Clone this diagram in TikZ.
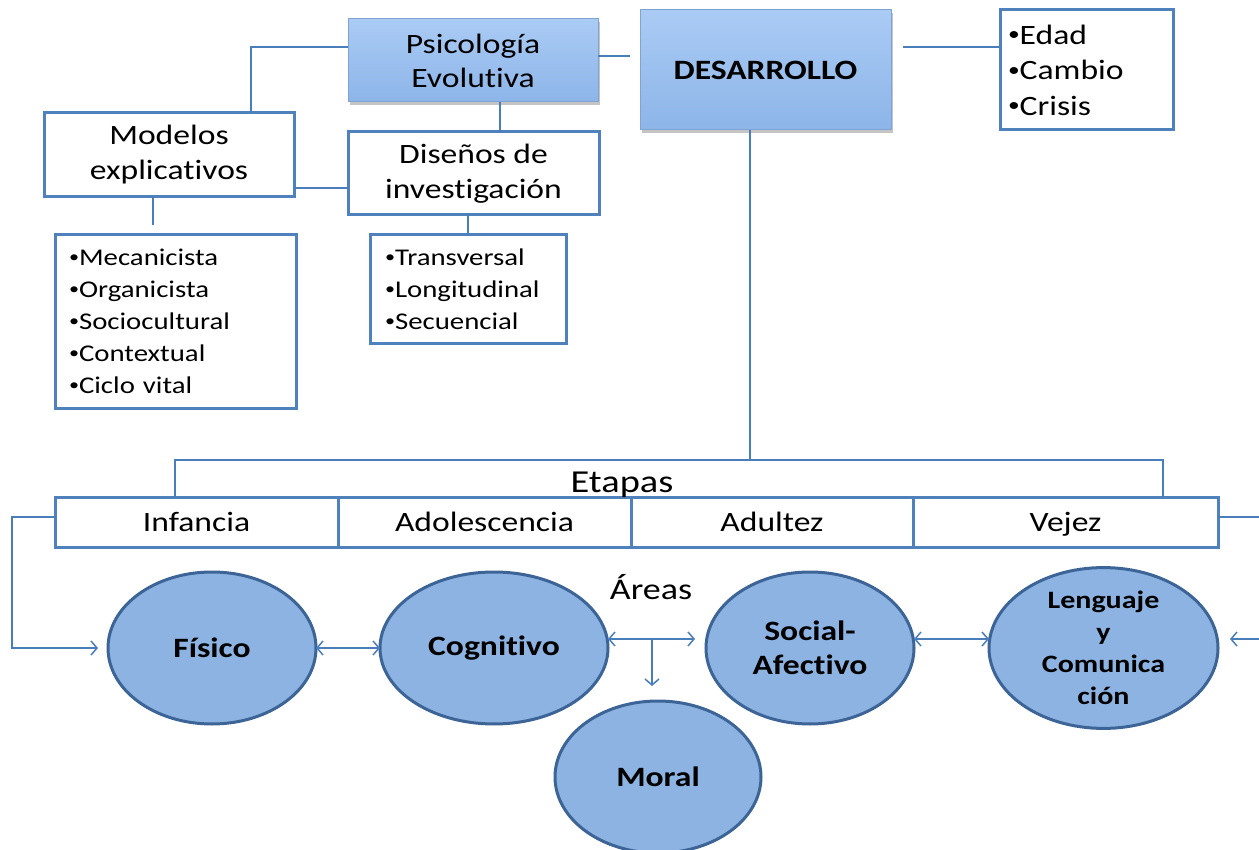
\documentclass[tikz,border=0pt]{standalone}
\usepackage{fontspec}
\setmainfont{Carlito}[FakeStretch=1.2, Ligatures=NoCommon]
\usetikzlibrary{shapes.geometric,arrows.meta,shadows}
\definecolor{conn}{HTML}{4A7EBB}
\definecolor{boxline}{HTML}{4F81BD}
\definecolor{ellfill}{HTML}{8DB3E2}
\definecolor{ellline}{HTML}{3C6496}
\definecolor{headtop}{HTML}{AACBF4}
\definecolor{headbot}{HTML}{8DB5E9}
\definecolor{headline}{HTML}{7FA3D2}
\newcommand{\bul}{\raisebox{0.12em}{\scalebox{0.7}{•}}}
\tikzset{
  conn/.style={draw=conn, line width=1.5pt},
  arr/.style={conn, -{Straight Barb[length=6pt,width=14pt,line width=1.5pt]}},
  arrtwo/.style={conn, {Straight Barb[length=6pt,width=14pt,line width=1.5pt]}-{Straight Barb[length=6pt,width=14pt,line width=1.5pt]}},
  wbox/.style={draw=boxline, line width=3pt, fill=white, inner sep=0pt, outer sep=0pt, align=center},
  listbox/.style={draw=boxline, line width=3pt, fill=white, inner ysep=0pt, outer sep=0pt, align=left},
  headbox/.style={draw=headline, line width=1pt, top color=headtop, bottom color=headbot,
    inner sep=0pt, outer sep=0pt, align=center,
    drop shadow={opacity=0.45, shadow xshift=2pt, shadow yshift=-3pt}},
  area/.style={ellipse, draw=ellline, line width=3pt, fill=ellfill, inner sep=0pt, outer sep=0pt,
    align=center, font=\bfseries\fontsize{28}{34}\selectfont},
  stage/.style={draw=boxline, line width=3pt, fill=white, inner sep=0pt, outer sep=0pt,
    minimum height=50pt, text height=22pt, text depth=3pt, font=\fontsize{28}{34}\selectfont},
  big/.style={font=\fontsize{28}{34}\selectfont},
}
\begin{document}
\begin{tikzpicture}[x=1pt,y=-1pt]
\clip (0,0) rectangle (1259,850);
\fill[white] (0,0) rectangle (1259,850);

% top boxes
\node[headbox, minimum width=250pt, minimum height=83pt, big] (psi) at (473,60.5) {Psicología\\[0pt]Evolutiva};
\node[headbox, minimum width=251pt, minimum height=120pt, font=\bfseries\fontsize{28}{34}\selectfont] (desa) at (765.5,70) {DESARROLLO};
\node[listbox, text width=157pt, inner xsep=8pt, minimum height=120pt, font=\fontsize{28}{35.5}\selectfont] (eca) at (1086.5,70) {\bul Edad\\\bul Cambio\\\bul Crisis};

\node[wbox, minimum width=250pt, minimum height=84pt, font=\fontsize{28}{35}\selectfont] (mod) at (169,155) {Modelos\\explicativos};
\node[wbox, minimum width=251pt, minimum height=83pt, font=\fontsize{28}{35}\selectfont] (dis) at (473.5,173.5) {Diseños de\\investigación};

\node[listbox, text width=213pt, inner xsep=14pt, minimum height=173pt, font=\fontsize{24}{32}\selectfont] (mec) at (175.5,321.5)
  {\bul Mecanicista\\\bul Organicista\\\bul Sociocultural\\\bul Contextual\\\bul Ciclo vital};
\node[listbox, text width=166pt, inner xsep=15pt, minimum height=109pt, font=\fontsize{24}{32}\selectfont] (tra) at (468,289.5)
  {\bul Transversal\\\bul Longitudinal\\\bul Secuencial};

% stages
\node[stage, minimum width=283pt] (inf) at (196.5,522) {Infancia};
\node[stage, minimum width=293pt] (ado) at (484.5,522) {Adolescencia};
\node[stage, minimum width=282pt] (adu) at (772,522) {Adultez};
\node[stage, minimum width=305pt] (vej) at (1065.5,522) {Vejez};
\node[anchor=base, font=\fontsize{32}{38}\selectfont] (etapas) at (622,492) {Etapas};
\node[anchor=base, font=\fontsize{30}{36}\selectfont] (areas) at (651,599) {Áreas};

% areas
\node[area, minimum width=208pt, minimum height=152pt] (fis) at (212,648) {Físico};
\node[area, minimum width=228pt, minimum height=152pt] (cog) at (494,648) {Cognitivo};
\node[area, minimum width=208pt, minimum height=152pt] (soc) at (810,648) {Social-\\Afectivo};
\node[area, minimum width=229pt, minimum height=152pt, font=\bfseries\fontsize{25}{32}\selectfont] (lan) at (1103.5,648) {Lenguaje\\y\\Comunica\\ción};
\node[area, minimum width=206pt, minimum height=152pt] (mor) at (658,777) {Moral};

% coordinates for connector bends / free ends
\coordinate (c1) at (251,47);
\coordinate (c2) at (630,56);
\coordinate (c3) at (903,47);
\coordinate (c4) at (500,0);
\coordinate (c5) at (0,188);
\coordinate (c6) at (153,225);
\coordinate (c7) at (468,0);
\coordinate (bL) at (175,460);
\coordinate (bR) at (1163,460);
\coordinate (bM) at (750,460);
\coordinate (lA) at (12,517);
\coordinate (rE) at (1259,517);
\coordinate (rF) at (1259,639);
\coordinate (rG) at (1230,639);
\coordinate (dA) at (652,639);
\coordinate (dB) at (652,686);
\coordinate (sA) at (695,639);

% connectors
\draw[conn] (c1 -| psi.west) -- (c1) -- (c1 |- mod.north);
\draw[conn] (c2 -| psi.east) -- (c2);
\draw[conn] (c3) -- (c3 -| eca.west);
\draw[conn] (c4 |- psi.south) -- (c4 |- dis.north);
\draw[conn] (c5 -| mod.east) -- (c5 -| dis.west);
\draw[conn] (c6 |- mod.south) -- (c6);
\draw[conn] (c7 |- dis.south) -- (c7 |- tra.north);
\draw[conn] (bM |- desa.south) -- (bM);
\draw[conn] (bL |- inf.north) -- (bL) -- (bR) -- (bR |- vej.north);
\draw[arr] (lA -| inf.west) -- (lA) |- ([xshift=-10pt]fis.west);
\draw[conn] (rE -| vej.east) -- (rE);
\draw[arr] (rF) -- (rG);
\draw[arrtwo] (fis.east) -- (cog.west);
\draw[arrtwo] (dA -| cog.east) -- (sA);
\draw[arr] (dA) -- (dB);
\draw[arrtwo] (dA -| soc.east) -- (dA -| lan.west);
\end{tikzpicture}
\end{document}
